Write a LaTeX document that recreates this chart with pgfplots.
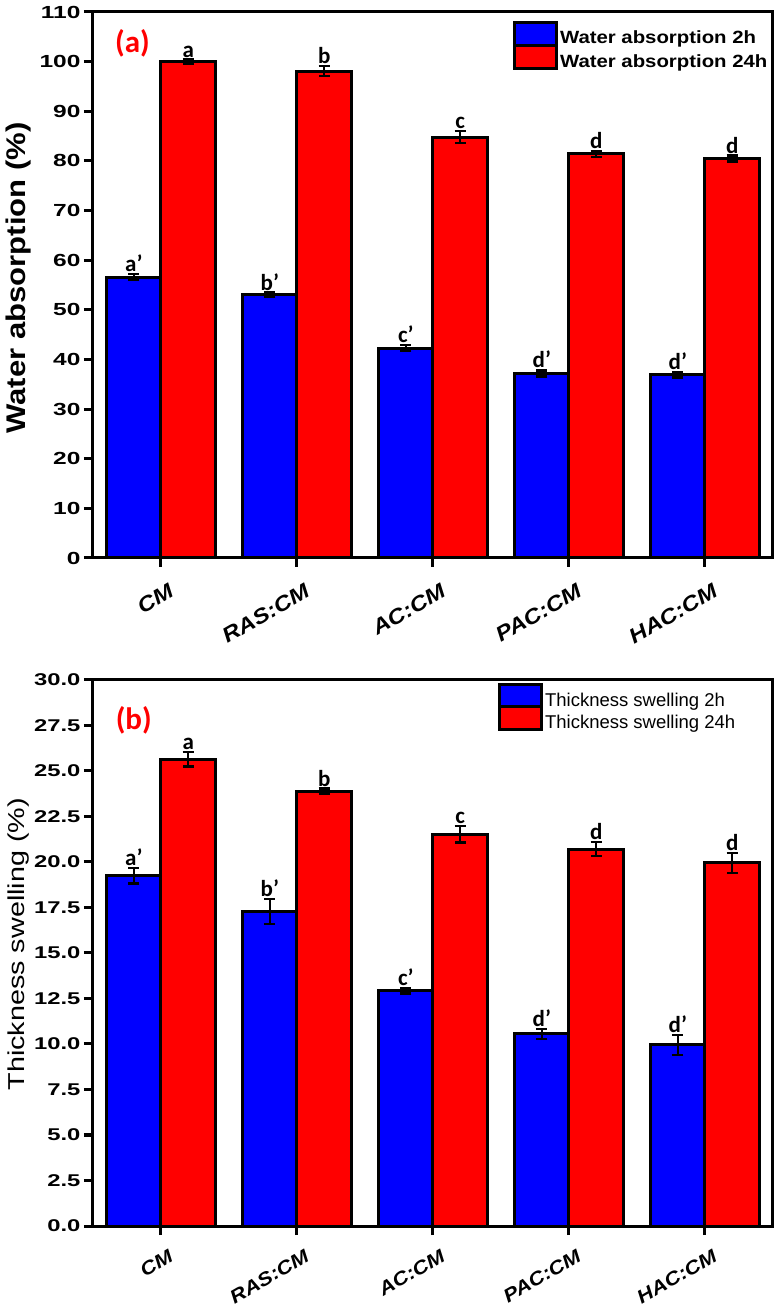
\documentclass[border=0pt]{standalone}
\usepackage{pgfplots}
\pgfplotsset{compat=1.18}
\usepackage{pgfplotstable}
\usepackage{fontspec}
\setmainfont{Liberation Sans}
% horizontally extended cuts of the sans face
\newfontfamily\sA{Liberation Sans}[FakeStretch=1.15]
\newfontfamily\sB{Liberation Sans}[FakeStretch=1.4]
\newfontfamily\sC{Liberation Sans}[FakeStretch=1.25]
\newfontfamily\calib{Carlito}

% water absorption (%) after 2 h and 24 h, mean and error
\pgfplotstableread{
x v2   e2  v24   e24 l2 l24
0 56.6 0.6 100.0 0.4 a’ a
1 53.1 0.4 98.1  1.0 b’ b
2 42.3 0.6 84.8  1.2 c’ c
3 37.2 0.6 81.4  0.6 d’ d
4 36.9 0.5 80.5  0.6 d’ d
}\wabs

% thickness swelling (%) after 2 h and 24 h, mean and error
\pgfplotstableread{
x v2    e2   v24   e24  l2 l24
0 19.25 0.43 25.65 0.40 a’ a
1 17.28 0.68 23.88 0.15 b’ b
2 12.93 0.15 21.52 0.45 c’ c
3 10.55 0.28 20.71 0.38 d’ d
4  9.95 0.55 19.95 0.55 d’ d
}\tsw

\definecolor{barblue}{RGB}{0,0,255}
\definecolor{barred}{RGB}{255,0,0}

\pgfplotsset{
  panel/.style={
    scale only axis, width=680pt, height=546pt,
    xmin=-0.5, xmax=4.5,
    xtick={0,1,2,3,4},
    xticklabels={CM,RAS:CM,AC:CM,PAC:CM,HAC:CM},
    xtick pos=bottom, ytick pos=left,
    tick align=outside, major tick length=9pt,
    every tick/.style={black, line width=3pt},
    axis line style={line width=3pt},
    /pgf/number format/assume math mode=true,
    clip=false,
    legend cell align=left,
    legend image code/.code={\draw[#1, line width=3pt] (0pt,-7pt) rectangle (42pt,16pt);},
  },
  bar2/.style={ybar, bar width=0.4, bar shift=-0.2, fill=barblue, draw=black, line width=3pt},
  bar24/.style={ybar, bar width=0.4, bar shift=0.2, fill=barred, draw=black, line width=3pt},
  errs/.style={draw=none, mark=none, forget plot,
    error bars/.cd, y dir=both, y explicit,
    error bar style={line width=2.5pt, black},
    error mark options={rotate=90, mark size=5.5pt, line width=2.5pt, black}},
  letters/.style={draw=none, mark=none, forget plot, nodes near coords,
    point meta=explicit symbolic,
    nodes near coords style={font=\calib\bfseries\fontsize{23}{23}\selectfont,
      anchor=south, inner sep=2pt, text=black}},
}

\begin{document}
\begin{tikzpicture}

% (a) water absorption
\begin{axis}[panel, at={(0pt,668pt)}, anchor=south west,
  ymin=0, ymax=110, ytick={0,10,...,110},
  yticklabel style={font=\sB\bfseries\fontsize{17.5}{17.5}\selectfont},
  xticklabel style={font=\sA\bfseries\itshape\fontsize{21}{21}\selectfont,
      xshift=8pt, yshift=-11pt, rotate=30, anchor=north east},
  ylabel={Water absorption (\%)},
  ylabel style={font=\sA\bfseries\fontsize{27}{27}\selectfont,
    at={(axis description cs:-0.109,0.513)}, anchor=center},
  legend style={at={(rel axis cs:0.613,0.988)}, anchor=north west, draw=none, fill=none,
    row sep=-3pt, font=\sA\bfseries\fontsize{17.7}{17.7}\selectfont},
]
\addplot[bar2] table[x=x, y=v2] {\wabs};
\addplot[bar24] table[x=x, y=v24] {\wabs};
\addplot[errs] table[x expr=\thisrow{x}-0.2, y=v2, y error=e2] {\wabs};
\addplot[errs] table[x expr=\thisrow{x}+0.2, y=v24, y error=e24] {\wabs};
\addplot[letters] table[x expr=\thisrow{x}-0.2, y expr=\thisrow{v2}+\thisrow{e2}, meta=l2] {\wabs};
\addplot[letters] table[x expr=\thisrow{x}+0.2, y expr=\thisrow{v24}+\thisrow{e24}, meta=l24] {\wabs};
\legend{Water absorption 2h, Water absorption 24h}
\node[text=barred, font=\calib\bfseries\fontsize{31}{31}\selectfont] at (axis cs:-0.21,103.6) {(a)};
\end{axis}

% (b) thickness swelling
\begin{axis}[panel, at={(0pt,0pt)}, anchor=south west,
  ymin=0, ymax=30, ytick={0,2.5,...,30},
  yticklabel style={font=\sB\bfseries\fontsize{17}{17}\selectfont,
    /pgf/number format/.cd, fixed, fixed zerofill, precision=1},
  xticklabel style={font=\sA\bfseries\itshape\fontsize{19}{19}\selectfont,
      xshift=8pt, yshift=-9pt, rotate=30, anchor=north east},
  ylabel={Thickness swelling (\%)},
  ylabel style={font=\sC\fontsize{23}{23}\selectfont,
    at={(axis description cs:-0.110,0.516)}, anchor=center},
  legend style={at={(rel axis cs:0.591,0.998)}, anchor=north west, draw=none, fill=none,
    row sep=-5pt, font=\fontsize{18.5}{18.5}\selectfont},
]
\addplot[bar2] table[x=x, y=v2] {\tsw};
\addplot[bar24] table[x=x, y=v24] {\tsw};
\addplot[errs] table[x expr=\thisrow{x}-0.2, y=v2, y error=e2] {\tsw};
\addplot[errs] table[x expr=\thisrow{x}+0.2, y=v24, y error=e24] {\tsw};
\addplot[letters] table[x expr=\thisrow{x}-0.2, y expr=\thisrow{v2}+\thisrow{e2}, meta=l2] {\tsw};
\addplot[letters] table[x expr=\thisrow{x}+0.2, y expr=\thisrow{v24}+\thisrow{e24}, meta=l24] {\tsw};
\legend{Thickness swelling 2h, Thickness swelling 24h}
\node[text=barred, font=\calib\bfseries\fontsize{31}{31}\selectfont] at (axis cs:-0.2,27.8) {(b)};
\end{axis}

\pgfresetboundingbox
\path (-93pt,-81pt) rectangle (686pt,1226pt);
\end{tikzpicture}
\end{document}
